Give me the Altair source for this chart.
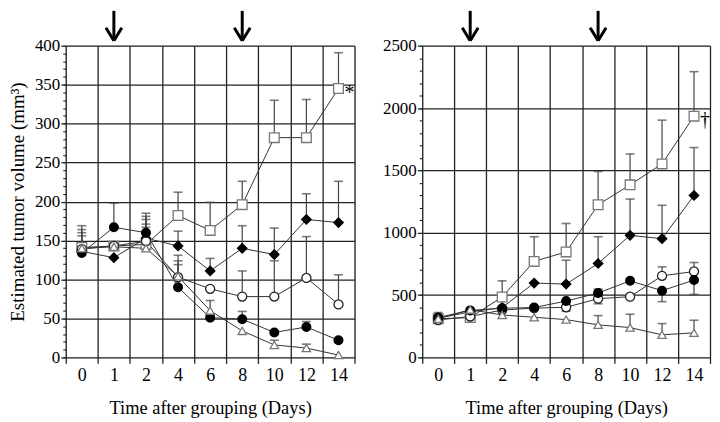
import altair as alt
import pandas as pd

days = ["0", "1", "2", "4", "6", "8", "10", "12", "14"]
series = ["square", "diamond", "open_circle", "filled_circle", "triangle"]

# Left panel values (mm^3)
left_square = [141, 143, 145, 182, 163, 196, 282, 282, 345]
left_diamond = [136, 128, 153, 143, 111, 140, 132, 177, 173]
left_open_circle = [139, 143, 149, 103, 88, 78, 78, 102, 68]
left_filled_circle = [134, 167, 160, 90, 51, 49, 32, 39, 22]
left_triangle = [140, 142, 140, 104, 60, 34, 16, 12, 3]
# error bar ends (None = no visible bar)
left_square_err = [169, None, 171, 212, 199, 226, 330, 331, 391]
left_diamond_err = [164, None, 181, 162, 127, 169, 166, 210, 226]
left_open_circle_err = [160, None, 177, 124, None, 111, 124, 155, 106]
left_filled_circle_err = [156, 198, 185, 119, None, 59, None, 46, None]
left_triangle_err = [None, None, 167, 131, 73, None, 22, 17, None]

# Right panel values (mm^3)
right_square = [310, 319, 485, 770, 846, 1224, 1384, 1552, 1935]
right_diamond = [315, 365, 400, 596, 588, 753, 979, 952, 1299]
right_open_circle = [300, 328, 380, 395, 402, 471, 487, 654, 689]
right_filled_circle = [320, 377, 394, 400, 452, 516, 614, 535, 620]
right_triangle = [310, 383, 340, 322, 303, 261, 239, 181, 197]
right_square_err = [360, None, 614, 968, 1074, 1491, 1632, 1903, 2292]
right_diamond_err = [None, None, None, None, 779, 968, 1270, 1220, 1683]
right_open_circle_err = [None, None, None, None, 370, 430, None, 726, 761]
right_filled_circle_err = [275, None, None, None, None, 548, None, 447, 505]
right_triangle_err = [None, None, None, None, None, 335, 346, 271, 298]

arrow_days = ["1", "8"]
left_note = {"day": "14", "value": 345, "label": "*"}
right_note = {"day": "14", "value": 1935, "label": "†"}

shapes = ["square", "diamond", "circle", "circle", "triangle-up"]
fills = ["white", "black", "white", "black", "white"]
strokes = ["#777777", "black", "#222222", "black", "#777777"]
sizes = [95, 70, 95, 110, 95]

FONT = "Liberation Serif"


def build_df(vals, errs):
    rows = []
    for name, v_list, e_list in zip(series, vals, errs):
        for d, v, e in zip(days, v_list, e_list):
            rows.append({"series": name, "day": d, "value": v, "err": e})
    return pd.DataFrame(rows)


def panel(df, ymax, major, minor, ytitle, note, width):
    xenc = alt.X(
        "day:N",
        sort=days,
        scale=alt.Scale(paddingInner=0, paddingOuter=0),
        axis=alt.Axis(
            title="Time after grouping (Days)",
            labelAngle=0,
            tickBand="extent",
            ticks=True,
            grid=True,
            gridColor="#222222",
            gridWidth=1.3,
            domain=False,
            tickSize=6,
            tickColor="#222222",
            tickWidth=1.3,
            labelFont=FONT,
            labelFontSize=18,
            labelColor="black",
            labelPadding=3,
            titleFont=FONT,
            titleFontSize=18.5,
            titleFontWeight="normal",
            titleColor="black",
            titlePadding=14,
        ),
    )
    yscale = alt.Scale(domain=[0, ymax], nice=False)
    major_kwargs = dict(
        orient="left",
        values=list(range(0, ymax + 1, major)),
        format="d",
        tickSize=5,
        grid=True,
        gridColor="#222222",
        gridWidth=1.3,
        domain=False,
        tickColor="#222222",
        tickWidth=1.2,
        labelFont=FONT,
        labelFontSize=17,
        labelColor="black",
        labelPadding=1,
        labelOverlap=False,
        labelFlush=False,
        titleFont=FONT,
        titleFontSize=19,
        titleFontWeight="normal",
        titleColor="black",
        titlePadding=7,
    )
    major_kwargs["title"] = ytitle
    y_major = alt.Y("value:Q", scale=yscale, axis=alt.Axis(**major_kwargs))
    y_plain = alt.Y("value:Q", scale=yscale, axis=None)
    y_minor = alt.Y(
        "err:Q",
        scale=yscale,
        axis=alt.Axis(
            orient="left",
            values=list(range(0, ymax + 1, minor)),
            labels=False,
            grid=False,
            domain=False,
            ticks=True,
            tickSize=3,
            tickColor="#222222",
            tickWidth=1.1,
            title=None,
        ),
    )

    base = alt.Chart(df)
    lines = base.mark_line(color="#333333", strokeWidth=1).encode(x=xenc, y=y_major, detail="series:N")
    errdf = df.dropna(subset=["err"])
    ebase = alt.Chart(errdf)
    err_rules = ebase.mark_rule(color="#444444", strokeWidth=1.2).encode(
        x=xenc, y=y_plain, y2=alt.Y2("err:Q")
    )
    err_caps = ebase.mark_tick(color="#444444", size=9, thickness=1.6).encode(x=xenc, y=y_minor)
    points = base.mark_point(filled=True, opacity=1, strokeWidth=1.3).encode(
        x=xenc,
        y=y_plain,
        shape=alt.Shape("series:N", scale=alt.Scale(domain=series, range=shapes), legend=None),
        fill=alt.Fill("series:N", scale=alt.Scale(domain=series, range=fills), legend=None),
        stroke=alt.Stroke("series:N", scale=alt.Scale(domain=series, range=strokes), legend=None),
        size=alt.Size("series:N", scale=alt.Scale(domain=series, range=sizes), legend=None),
    )
    ndf = pd.DataFrame([note])
    notes = alt.Chart(ndf).mark_text(
        font=FONT, fontSize=20, dx=11, dy=4, color="#000000"
    ).encode(x=xenc, y=y_plain, text="label:N")

    adf = pd.DataFrame({"day": arrow_days})
    abase = alt.Chart(adf)
    shaft = abase.mark_rule(color="black", strokeWidth=3).encode(
        x=xenc, y=alt.value(-35), y2=alt.value(-6)
    )
    head_l = abase.mark_rule(color="black", strokeWidth=3, xOffset=-8, x2Offset=0).encode(
        x=xenc, x2=alt.X2("day:N"), y=alt.value(-18), y2=alt.value(-5)
    )
    head_r = abase.mark_rule(color="black", strokeWidth=3, xOffset=8, x2Offset=0).encode(
        x=xenc, x2=alt.X2("day:N"), y=alt.value(-18), y2=alt.value(-5)
    )

    return (
        alt.layer(lines, err_rules, err_caps, points, notes, shaft, head_l, head_r)
        .resolve_axis(y="independent")
        .properties(width=width, height=313)
    )


left_df = build_df(
    [left_square, left_diamond, left_open_circle, left_filled_circle, left_triangle],
    [left_square_err, left_diamond_err, left_open_circle_err, left_filled_circle_err, left_triangle_err],
)
right_df = build_df(
    [right_square, right_diamond, right_open_circle, right_filled_circle, right_triangle],
    [right_square_err, right_diamond_err, right_open_circle_err, right_filled_circle_err, right_triangle_err],
)

left = panel(left_df, 400, 50, 10, "Estimated tumor volume (mm³)", left_note, 290)
right = panel(right_df, 2500, 500, 100, None, right_note, 289)

chart = alt.hconcat(left, right, spacing=25).resolve_scale(
    x="independent", y="independent"
).configure_view(stroke="black", strokeWidth=1.5).configure(background="white", padding=0)

chart.save("out.html", embed_options={"renderer": "svg", "actions": False})
